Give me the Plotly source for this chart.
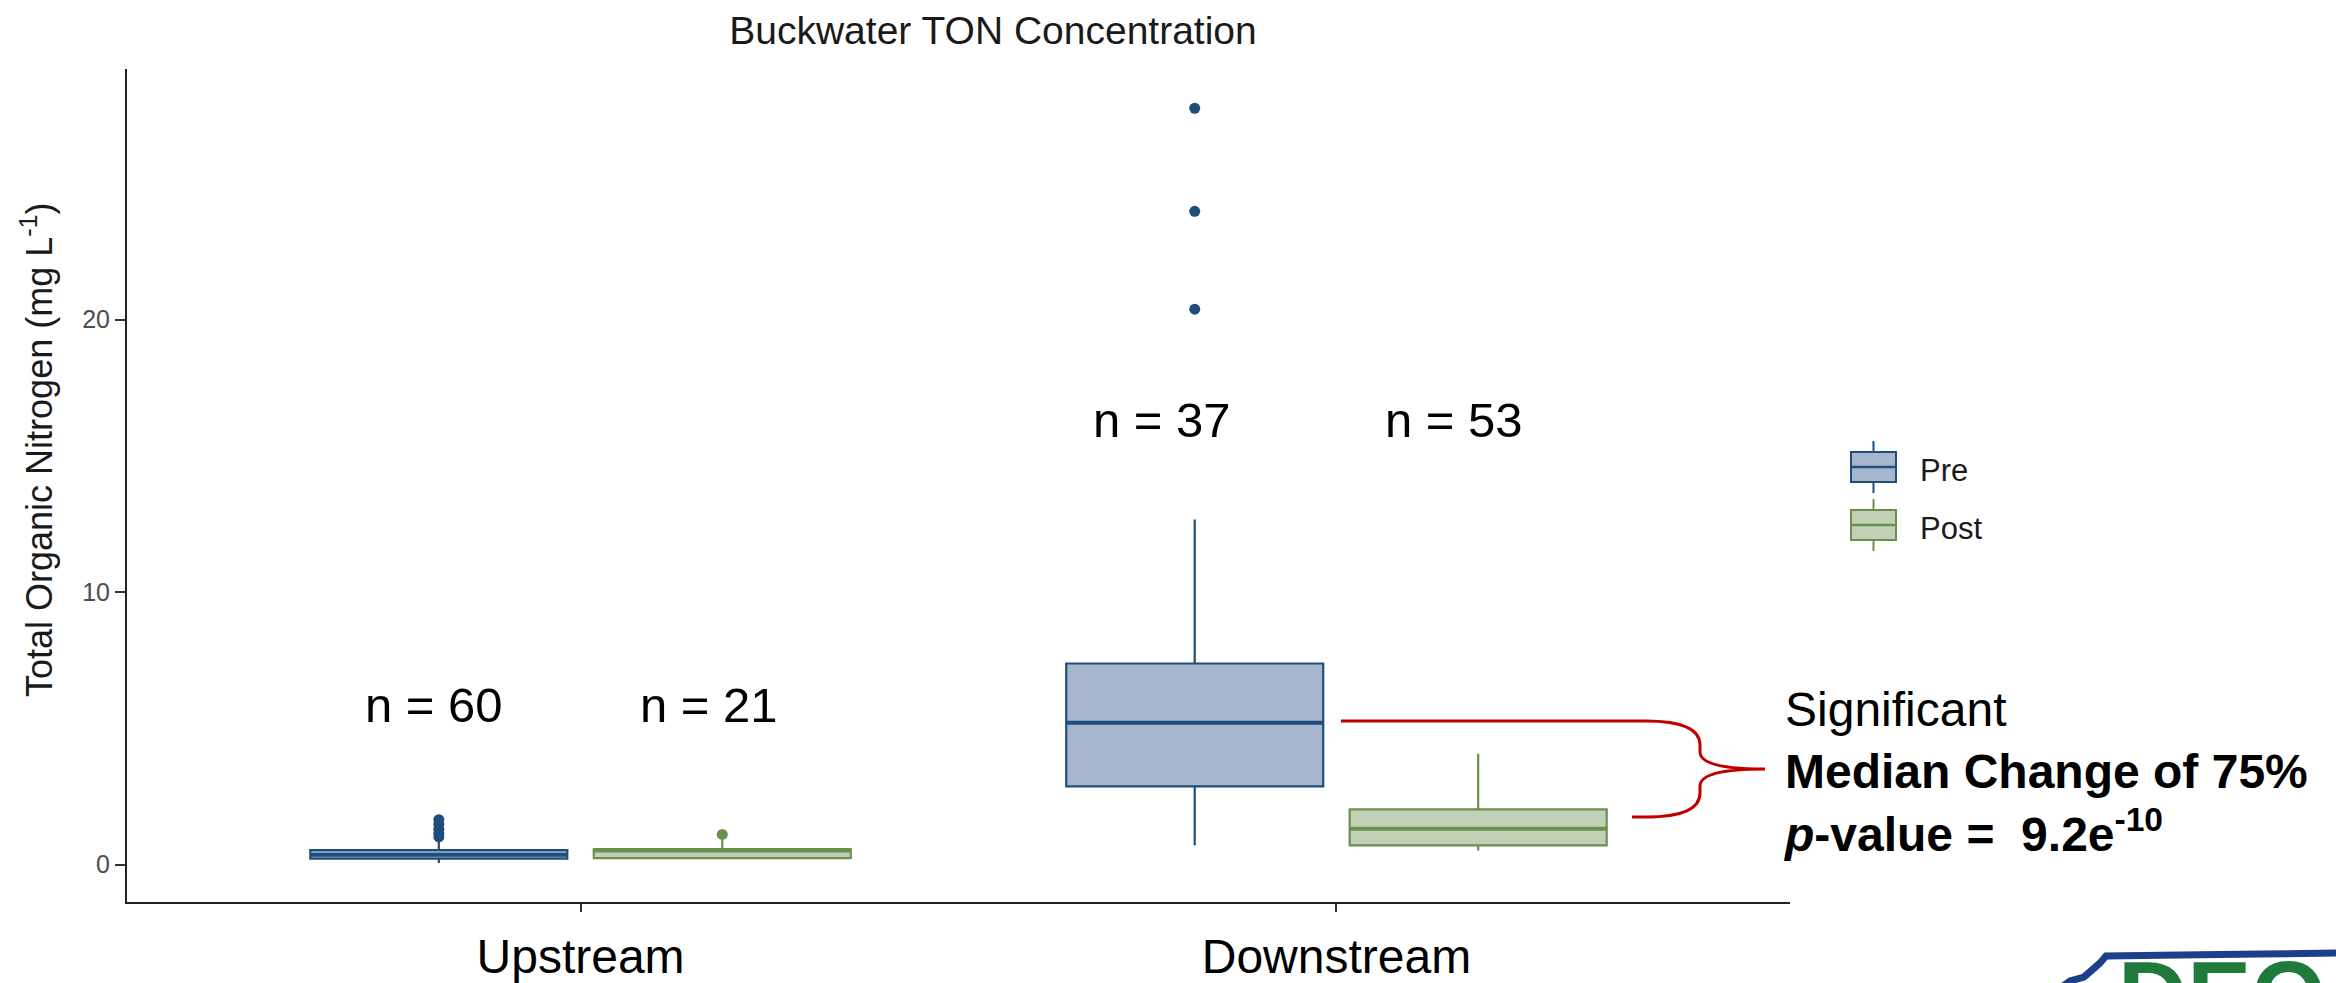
import plotly.graph_objects as go

# ---------------- data ----------------
categories = ["Upstream", "Downstream"]
groups = ["Pre", "Post"]

pre_lowerfence = [0.06, 0.71]
pre_q1 = [0.22, 2.87]
pre_median = [0.36, 5.21]
pre_q3 = [0.53, 7.38]
pre_upperfence = [0.85, 12.66]
pre_outliers = [[1.65, 1.48, 1.30, 1.15, 1.02], [20.38, 23.97, 27.75]]

post_lowerfence = [0.20, 0.52]
post_q1 = [0.24, 0.71]
post_median = [0.52, 1.32]
post_q3 = [0.57, 2.03]
post_upperfence = [0.90, 4.07]
post_outliers = [[1.11], []]

n_pre = [60, 37]
n_post = [21, 53]

y_ticks = [0, 10, 20]

title_text = "Buckwater TON Concentration"
y_title = "Total Organic Nitrogen (mg L<sup>-1</sup>)"
note_lines = ["Significant", "<b>Median Change of 75%</b>",
              "<b><i>p</i>-value =&nbsp; 9.2e<sup>-10</sup></b>"]

# ---------------- geometry / style ----------------
W, H = 2336, 983
L, R, T, B = 127, 546, 69, 81
PW, PH = W - L - R, H - T - B
FONT = "Liberation Sans, Arial, Helvetica, sans-serif"


def px(x):
    return (x - L) / PW


def py(y):
    return (H - B - y) / PH


OFFSET = 0.1875
BOXW = 0.34
styles = {
    "Pre": dict(line="#1f4e7c", fill="#a6b7cd", off=-OFFSET),
    "Post": dict(line="#6b8f4e", fill="#c2d0b6", off=OFFSET),
}
stats = {
    "Pre": (pre_lowerfence, pre_q1, pre_median, pre_q3, pre_upperfence, pre_outliers, n_pre),
    "Post": (post_lowerfence, post_q1, post_median, post_q3, post_upperfence, post_outliers, n_post),
}
# label placement (pixel x of each label centre, data-y level per category)
label_px = {"Pre": [434, 1162], "Post": [709, 1454]}
label_y = [5.85, 16.3]
# legend placement (pixel centres of the entries)
legend_cy = {"Pre": 467, "Post": 525}

fig = go.Figure()
annotations = []
shapes = []
for g in groups:
    lo, q1, med, q3, hi, outs, ns = stats[g]
    st = styles[g]
    xs = [i + st["off"] for i in range(len(categories))]
    fig.add_trace(go.Box(
        x=xs, q1=q1, median=med, q3=q3, lowerfence=lo, upperfence=hi,
        orientation="v", name=g, legendgroup=g, width=BOXW, whiskerwidth=0,
        fillcolor=st["fill"], line=dict(color=st["line"], width=2.2),
        boxpoints=False, hoverinfo="y", showlegend=False,
    ))
    # thicker median bar as in ggplot
    for i, m in enumerate(med):
        shapes.append(dict(type="line", xref="x", yref="y",
                           x0=xs[i] - BOXW / 2, x1=xs[i] + BOXW / 2, y0=m, y1=m,
                           line=dict(color=st["line"], width=4)))
    ox, oy = [], []
    for i, vals in enumerate(outs):
        ox += [xs[i]] * len(vals)
        oy += vals
    fig.add_trace(go.Scatter(
        x=ox, y=oy, mode="markers", legendgroup=g, showlegend=False,
        marker=dict(color=st["line"], size=11), hoverinfo="y",
    ))
    for i, n in enumerate(ns):
        annotations.append(dict(
            x=px(label_px[g][i]), y=label_y[i], xref="paper", yref="y",
            xanchor="center", yanchor="middle",
            text=f"n = {n}", showarrow=False,
            font=dict(family=FONT, size=49, color="black"),
        ))
    # legend key (ggplot style boxplot glyph)
    cy = legend_cy[g]
    shapes.append(dict(type="line", xref="paper", yref="paper",
                       x0=px(1873.5), x1=px(1873.5), y0=py(cy - 26), y1=py(cy + 26),
                       line=dict(color=st["line"], width=2)))
    shapes.append(dict(type="rect", xref="paper", yref="paper",
                       x0=px(1851), x1=px(1896), y0=py(cy - 15), y1=py(cy + 15),
                       fillcolor=st["fill"], line=dict(color=st["line"], width=2)))
    shapes.append(dict(type="line", xref="paper", yref="paper",
                       x0=px(1851), x1=px(1896), y0=py(cy), y1=py(cy),
                       line=dict(color=st["line"], width=2.5)))
    annotations.append(dict(
        x=px(1918), y=py(cy + 3), xref="paper", yref="paper", xanchor="left",
        yanchor="middle", showarrow=False, text=g,
        font=dict(family=FONT, size=31, color="#1a1a1a"),
    ))

# y-axis title (placed like the reference, above the panel centre)
annotations.append(dict(
    x=px(37), y=py(450), xref="paper", yref="paper", xanchor="center",
    yanchor="middle", textangle=-90, showarrow=False, text=y_title,
    font=dict(family=FONT, size=36, color="#1a1a1a"),
))
# note text
annotations.append(dict(
    x=px(1781), y=py(772), xref="paper", yref="paper", xanchor="left",
    yanchor="middle", align="left", showarrow=False,
    text="<br>".join(note_lines), font=dict(family=FONT, size=48, color="black"),
))
# logo text (partially cut at bottom)
annotations.append(dict(
    x=px(2116), y=py(940), xref="paper", yref="paper", xanchor="left",
    yanchor="top", showarrow=False, text="<b>DEQ</b>",
    font=dict(family=FONT, size=96, color="#1f7a3c"),
))


def path(points_cmds):
    out = []
    for cmd, pts in points_cmds:
        step = 2 if cmd == "Q" else 1
        for k in range(0, len(pts), step):
            chunk = pts[k:k + step]
            coords = " ".join(f"{px(x):.5f},{py(y):.5f}" for x, y in chunk)
            out.append(f"{cmd} {coords}")
    return " ".join(out)


brace = path([
    ("M", [(1341, 721)]), ("L", [(1646, 721)]),
    ("Q", [(1700, 721), (1700, 745)]), ("L", [(1700, 752)]),
    ("Q", [(1700, 769), (1765, 769)]),
    ("Q", [(1700, 769), (1700, 786)]), ("L", [(1700, 793)]),
    ("Q", [(1700, 817), (1646, 817)]), ("L", [(1632, 817)]),
])
logo_outline = path([
    ("M", [(2055, 992)]),
    ("L", [(2070, 981), (2084, 977), (2092, 970), (2100, 963), (2106, 956),
           (2180, 955), (2260, 954), (2340, 953)]),
])

shapes += [
    dict(type="path", xref="paper", yref="paper", path=brace,
         line=dict(color="#c00000", width=3)),
    dict(type="path", xref="paper", yref="paper", path=logo_outline,
         line=dict(color="#1c3f8c", width=7)),
]

fig.update_layout(
    width=W, height=H,
    margin=dict(l=L, r=R, t=T, b=B, autoexpand=False),
    paper_bgcolor="white", plot_bgcolor="white",
    boxmode="overlay", showlegend=False,
    font=dict(family=FONT),
    title=dict(text=title_text, x=px(993), xref="paper", xanchor="center",
               y=1 - 30 / H, yref="container", yanchor="middle",
               font=dict(family=FONT, size=39, color="#1a1a1a")),
    xaxis=dict(range=[-0.6, 1.6], tickvals=list(range(len(categories))),
               ticktext=categories, ticks="outside", ticklen=8, tickwidth=2,
               tickcolor="#333333", showline=True, linecolor="#222222",
               linewidth=2, showgrid=False, zeroline=False,
               ticklabelstandoff=3,
               tickfont=dict(family=FONT, size=48, color="black")),
    yaxis=dict(range=[-1.37, 29.19], tickvals=y_ticks, ticks="outside",
               ticklen=10, tickwidth=2, tickcolor="#333333", showline=True,
               linecolor="#222222", linewidth=2, showgrid=False,
               zeroline=False,
               tickfont=dict(family=FONT, size=25, color="#4d4d4d")),
    annotations=annotations,
    shapes=shapes,
)

fig.write_html("out.html")
